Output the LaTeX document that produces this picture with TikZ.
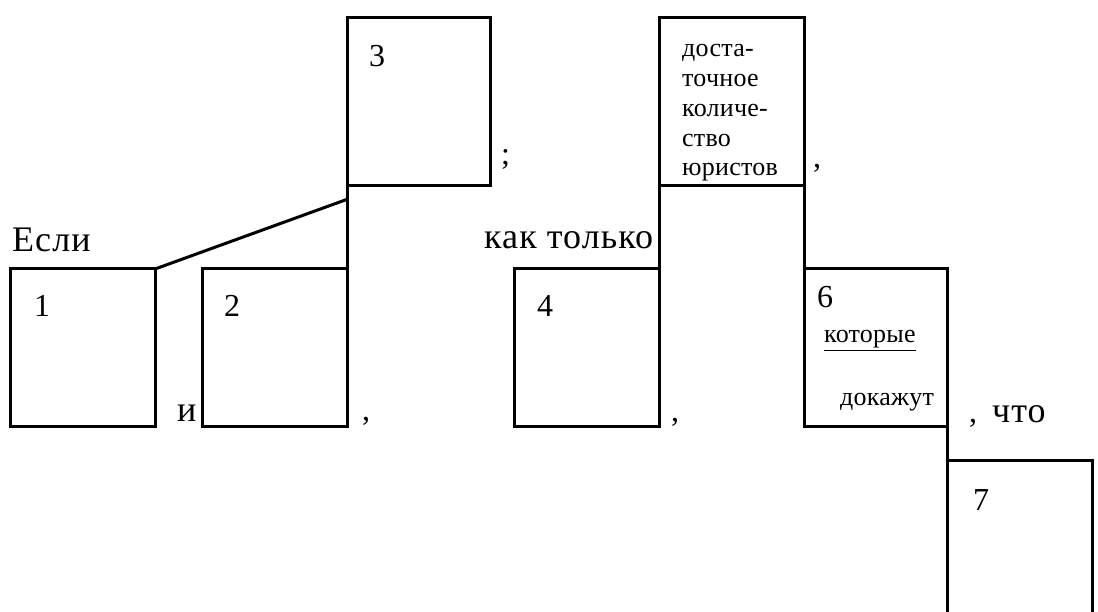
\documentclass[tikz,border=0pt]{standalone}
\usepackage{fontspec}
\setmainfont{Liberation Serif}
\newfontfamily\spacedbig[LetterSpace=3]{Liberation Serif}
\newfontfamily\spacedsmall[LetterSpace=1]{Liberation Serif}
\begin{document}
\begin{tikzpicture}[x=1pt,y=-1pt,
  box/.style={draw=black, line width=3pt, inner sep=0pt, outer sep=0pt, anchor=north west},
  openbox/.style={inner sep=0pt, outer sep=0pt, anchor=north west},
  conn/.style={draw=black, line width=3pt},
  big/.style={inner sep=0pt, anchor=base west, font=\fontsize{32}{36}\selectfont},
  bigw/.style={inner sep=0pt, anchor=base west, font=\fontsize{36}{40}\spacedbig},
  small/.style={inner sep=0pt, anchor=base west, font=\fontsize{26}{29.75}\spacedsmall}]
\useasboundingbox (0,0) rectangle (1098,612);
% boxes
\node[box, minimum width=145pt, minimum height=157pt] (b1) at (10,269) {};
\node[box, minimum width=145pt, minimum height=157pt] (b2) at (202,269) {};
\node[box, minimum width=143pt, minimum height=168pt] (b3) at (347,18) {};
\node[box, minimum width=145pt, minimum height=157pt] (b4) at (514,269) {};
\node[box, minimum width=145pt, minimum height=168pt] (b5) at (659,18) {};
\node[box, minimum width=143pt, minimum height=157pt] (b6) at (804,269) {};
\node[openbox, minimum width=145pt, minimum height=160pt] (b7) at (947,460) {};
\draw[conn] (b7.south west) |- (b7.north east) -- (b7.south east);
% connectors
\coordinate (d3) at (348,199);
\draw[conn] (b3.south west) -- (b2.north east);
\draw[conn] (b1.north east) -- (d3);
\draw[conn] (b5.south west) -- (b4.north east);
\draw[conn] (b5.south east) -- (b6.north west);
\draw[conn] (b6.south east) -- (b7.north west);
% texts
\node[bigw] (tesli) at (12,252) {Если};
\node[big] (t1) at (34,317) {1};
\node[bigw] (ti) at (177,421) {и};
\node[big] (t2) at (224,317) {2};
\node[big] (tc1) at (362,420) {,};
\node[big] (t3) at (369,67) {3};
\node[big] (tsc) at (501,165) {;};
\node[bigw] (tkak) at (484,249) {как только};
\node[big] (t4) at (537,317) {4};
\node[big] (tc2) at (671,421) {,};
\node[small] (l1) at (682,57) {доста-};
\node[small] (l2) at (682,87) {точное};
\node[small] (l3) at (682,117) {количе-};
\node[small] (l4) at (682,147) {ство};
\node[small] (l5) at (682,176) {юристов};
\node[big] (tc3) at (813,168) {,};
\node[big] (t6) at (817,308) {6};
\node[small] (tkot) at (824,343) {\underline{которые}};
\node[small] (tdok) at (840,405) {докажут};
\node[big] (tcm) at (969,422) {,};
\node[bigw] (tchto) at (992,422) {что};
\node[big] (t7) at (973,510) {7};
\end{tikzpicture}
\end{document}
